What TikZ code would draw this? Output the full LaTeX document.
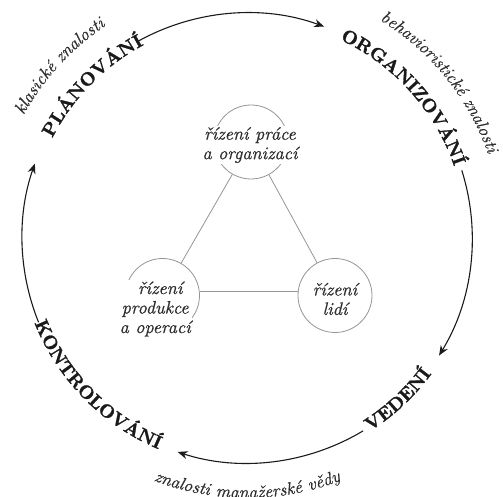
\documentclass[tikz,border=0pt]{standalone}
\usepackage{fontspec}
% 10pt design size of Latin Modern at every size, with heavier strokes
\setmainfont{lmroman10-regular.otf}[
  ItalicFont=lmroman10-italic.otf,
  ItalicFeatures={FakeBold=0.6},
  BoldFont=lmroman10-bold.otf,
  BoldFeatures={FakeBold=1.5},
  BoldItalicFont=lmroman10-bolditalic.otf]
\usetikzlibrary{arrows.meta,decorations.text}
\definecolor{ink}{HTML}{1A1A1A}
\definecolor{soft}{HTML}{2E2E2E}
\definecolor{rimgray}{HTML}{959595}
\begin{document}
\begin{tikzpicture}[x=1pt,y=1pt,
  cyclearc/.style={line width=1.1pt, draw=ink, -{Stealth[length=10pt,width=8pt]}},
  rim/.style={circle, draw=rimgray, line width=0.8pt, minimum size=74pt, inner sep=0pt},
  link/.style={draw=rimgray, line width=0.8pt},
  field/.style={font=\fontsize{18}{19.5}\selectfont\itshape, text=soft, align=center, fill=white, inner sep=1pt},
  bigword/.style={decorate, decoration={text along path, text align=center, text color=ink,
      text={|\fontsize{18.5}{20}\selectfont\bfseries|#1}}},
  smallword/.style={decorate, decoration={text along path, text align=center, text color=soft,
      text={|\fontsize{17.5}{19}\selectfont\itshape|#1}}},
]
\useasboundingbox (-247.2pt,-259pt) rectangle (255.8pt,238pt);

% the management cycle: four arcs, clockwise
\coordinate (c1) at (119.5:225pt);
\coordinate (c2) at (17.5:225pt);
\coordinate (c3) at (-59:225pt);
\coordinate (c4) at (202:225pt);
\draw[cyclearc] (c1) arc[start angle=119.5, end angle=70, radius=225pt];
\draw[cyclearc] (c2) arc[start angle=17.5, end angle=-31.5, radius=225pt];
\draw[cyclearc] (c3) arc[start angle=-59, end angle=-108, radius=225pt];
\draw[cyclearc] (c4) arc[start angle=202, end angle=160.7, radius=225pt];

% the four functions, set on the circle
\path[bigword=PLÁNOVÁNÍ] (165.5:219pt) arc[start angle=165.5, end angle=105.5, radius=219pt];
\path[bigword=ORGANIZOVÁNÍ] (77:219pt) arc[start angle=77, end angle=7, radius=219pt];
\path[bigword=KONTROLOVÁNÍ] (189.5:229pt) arc[start angle=189.5, end angle=259.5, radius=229pt];
\path[bigword=VEDENÍ] (-77:229pt) arc[start angle=-77, end angle=-17, radius=229pt];

% schools of knowledge, outside the circle
\path[smallword=klasické znalosti] (172.5:255pt) arc[start angle=172.5, end angle=102.5, radius=255pt];
\path[smallword=behavioristické znalosti] (79:255pt) arc[start angle=79, end angle=-1, radius=255pt];
\path[smallword=znalosti manažerské vědy] (230:260pt) arc[start angle=230, end angle=310, radius=260pt];

% inner triangle of management areas
\node[rim] (work) at (3.8pt,96pt) {};
\node[rim] (prod) at (-84.7pt,-57.5pt) {};
\node[rim] (people) at (87.8pt,-57.5pt) {};
\draw[link] (work) -- (prod);
\draw[link] (work) -- (people);
\draw[link] ([yshift=4pt]prod.east) -- ([yshift=4pt]people.west);

\node[field] (work-t) at (2.8pt,93pt) {řízení práce\\a organizací};
\node[field] (prod-t) at (-92pt,-71pt) {\hspace*{10pt}řízení\\produkce\hspace*{16pt}\\a operací};
\node[field, fill=none] (people-t) at (87.8pt,-61pt) {řízení\\lidí};
\end{tikzpicture}
\end{document}
